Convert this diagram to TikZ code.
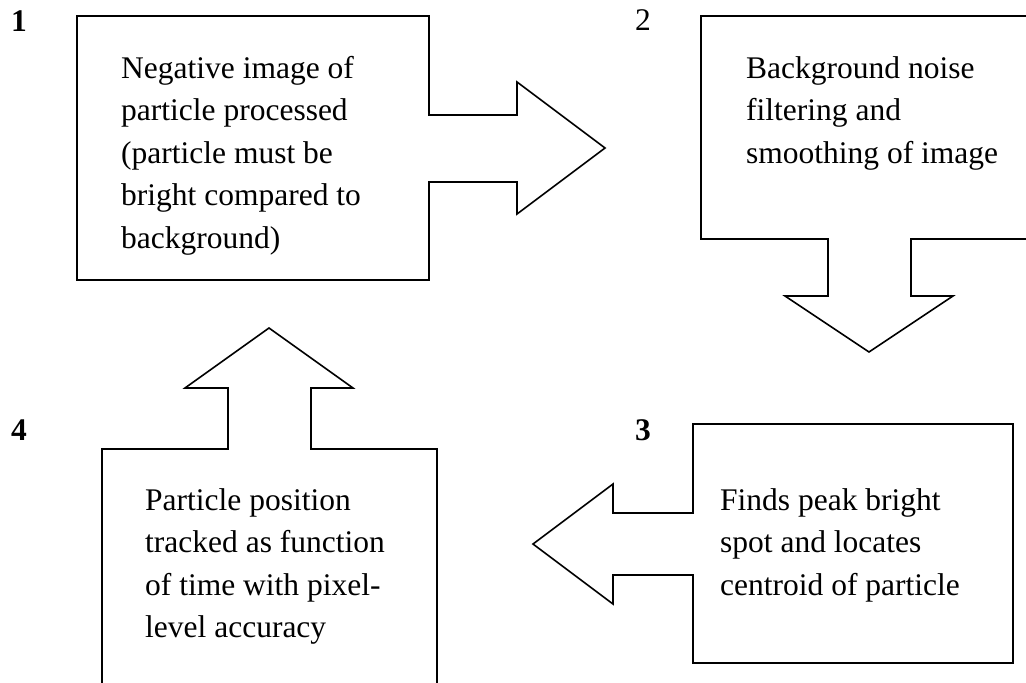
\documentclass[tikz,border=0pt]{standalone}
\usepackage{fontspec}
\setmainfont{Liberation Serif}
\begin{document}
\begin{tikzpicture}[x=1pt,y=-1pt,
  shapeline/.style={draw=black,line width=1.6pt,line join=miter},
  boxtext/.style={inner sep=0pt,anchor=base west,align=left,
    font={\fontsize{31.5}{42.5}\selectfont}},
  numlabel/.style={inner sep=0pt,anchor=base,font={\fontsize{31.5}{38}\selectfont}}]
\useasboundingbox (0,0) rectangle (1026,683);
% box 1 with right arrow
\draw[shapeline] (77,16) -- (429,16) -- (429,115) -- (517,115) -- (517,82) -- (605,148)
  -- (517,214) -- (517,182) -- (429,182) -- (429,280) -- (77,280) -- cycle;
% box 2 with down arrow
\draw[shapeline] (1026,16) -- (701,16) -- (701,239) -- (828,239) -- (828,296) -- (785,296)
  -- (869,352) -- (953,296) -- (911,296) -- (911,239) -- (1026,239);
% box 3 with left arrow
\draw[shapeline] (693,424) -- (1013,424) -- (1013,663) -- (693,663) -- (693,575) -- (613,575)
  -- (613,604) -- (533,544) -- (613,484) -- (613,513) -- (693,513) -- cycle;
% box 4 with up arrow
\draw[shapeline] (102,683) -- (102,449) -- (228,449) -- (228,388) -- (185,388) -- (269,328)
  -- (353,388) -- (311,388) -- (311,449) -- (437,449) -- (437,683);
% texts (anchored at the baseline of the last line)
\node[boxtext] (t1) at (121,248) {Negative image of\\particle processed\\(particle must be\\bright compared to\\background)};
\node[boxtext] (t2) at (746,163) {Background noise\\filtering and\\smoothing of image};
\node[boxtext] (t3) at (720,595) {Finds peak bright\\spot and locates\\centroid of particle};
\node[boxtext] (t4) at (145,637.5) {Particle position\\tracked as function\\of time with pixel-\\level accuracy};
% numbers
\node[numlabel] (n1) at (19,31) {\bfseries 1};
\node[numlabel] (n2) at (643,30) {2};
\node[numlabel] (n3) at (643,440) {\bfseries 3};
\node[numlabel] (n4) at (19,440) {\bfseries 4};
\end{tikzpicture}
\end{document}
